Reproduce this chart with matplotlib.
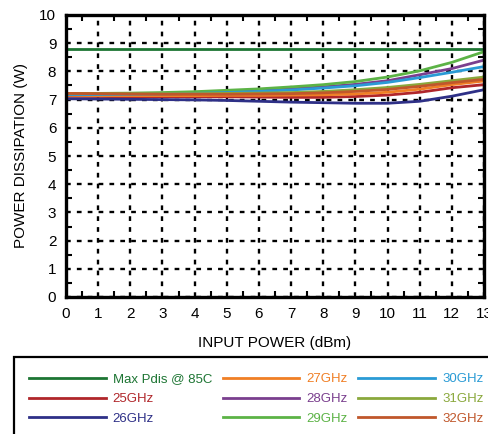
import matplotlib
matplotlib.use("Agg")
from matplotlib import pyplot as plt
from matplotlib.patches import Rectangle
from matplotlib.ticker import MultipleLocator

plt.rcParams['font.family'] = ['Liberation Sans', 'DejaVu Sans']

#--- data
input_power = [0, 1, 2, 3, 4, 5, 6, 7, 8, 9, 10, 11, 12, 13]
max_pdis = 8.8

p_25 = [7.12, 7.11, 7.10, 7.10, 7.10, 7.10, 7.09, 7.08, 7.08, 7.11, 7.16, 7.26, 7.42, 7.53]
p_26 = [7.03, 7.02, 7.01, 7.00, 6.99, 6.97, 6.94, 6.91, 6.89, 6.87, 6.87, 6.94, 7.12, 7.35]
p_27 = [7.15, 7.14, 7.14, 7.14, 7.14, 7.15, 7.15, 7.16, 7.17, 7.20, 7.26, 7.37, 7.53, 7.66]
p_28 = [7.20, 7.20, 7.21, 7.22, 7.24, 7.28, 7.32, 7.38, 7.45, 7.54, 7.67, 7.88, 8.10, 8.40]
p_29 = [7.22, 7.22, 7.23, 7.25, 7.28, 7.33, 7.38, 7.45, 7.53, 7.64, 7.80, 8.02, 8.32, 8.70]
p_30 = [7.18, 7.18, 7.19, 7.20, 7.22, 7.25, 7.29, 7.34, 7.41, 7.49, 7.61, 7.78, 7.97, 8.17]
p_31 = [7.22, 7.21, 7.21, 7.21, 7.21, 7.22, 7.23, 7.25, 7.29, 7.35, 7.43, 7.54, 7.67, 7.80]
p_32 = [7.22, 7.21, 7.20, 7.19, 7.19, 7.19, 7.20, 7.21, 7.24, 7.29, 7.36, 7.47, 7.60, 7.72]

series = [
  ('25GHz', p_25, '#b0262a'),
  ('26GHz', p_26, '#2e3087'),
  ('27GHz', p_27, '#f07f25'),
  ('28GHz', p_28, '#7a3f8e'),
  ('29GHz', p_29, '#5cb346'),
  ('30GHz', p_30, '#2a9bd5'),
  ('31GHz', p_31, '#8aa83c'),
  ('32GHz', p_32, '#c0572b'),
]

fig = plt.figure(figsize=(4.88, 4.34), dpi=100)
ax = fig.add_axes([66/488, 1 - 297/434, 418/488, 282/434])

handles = {}
h = ax.axhline(max_pdis, color='#1d7533', lw=2.0, label='Max Pdis @ 85C')
handles['Max Pdis @ 85C'] = h
for name, vals, col in series:
  line, = ax.plot(input_power, vals, color=col, lw=2.0, label=name)
  handles[name] = line

ax.set_xlim(0, 13)
ax.set_ylim(0, 10)
ax.xaxis.set_major_locator(MultipleLocator(1))
ax.yaxis.set_major_locator(MultipleLocator(1))
ax.xaxis.set_minor_locator(MultipleLocator(0.5))
ax.yaxis.set_minor_locator(MultipleLocator(0.5))
ax.tick_params(which='major', direction='in', length=0, labelsize=11, pad=7)
ax.tick_params(which='minor', direction='in', length=4, width=1.5)
ax.tick_params(which='minor', right=True, top=True)
ax.grid(True, which='major', color='black', lw=1.7, linestyle=(0, (2.0, 2.6)))
for s in ax.spines.values():
  s.set_linewidth(2.4)

ax.set_xlabel('INPUT POWER (dBm)', fontsize=11, labelpad=11)
ax.set_ylabel('POWER DISSIPATION (W)', fontsize=11, labelpad=8)

# legend box below the chart, running off the figure edge
fig.add_artist(Rectangle((14/488, -0.05), 1.0, 0.05 + 1 - 357/434,
                         transform=fig.transFigure, fill=False, lw=1.6, ec='black'))

order = ['Max Pdis @ 85C', '25GHz', '26GHz', '27GHz', '28GHz', '29GHz',
         '30GHz', '31GHz', '32GHz']
fig.legend([handles[k] for k in order], order, loc='upper left',
           bbox_to_anchor=(29/488, 1 - 373/434), ncol=3, frameon=False,
           fontsize=9.5, handlelength=5.8, handletextpad=0.55,
           columnspacing=0.8, labelspacing=0.58, borderpad=0,
           borderaxespad=0, labelcolor='linecolor')

fig.savefig('out.png', dpi=100)
